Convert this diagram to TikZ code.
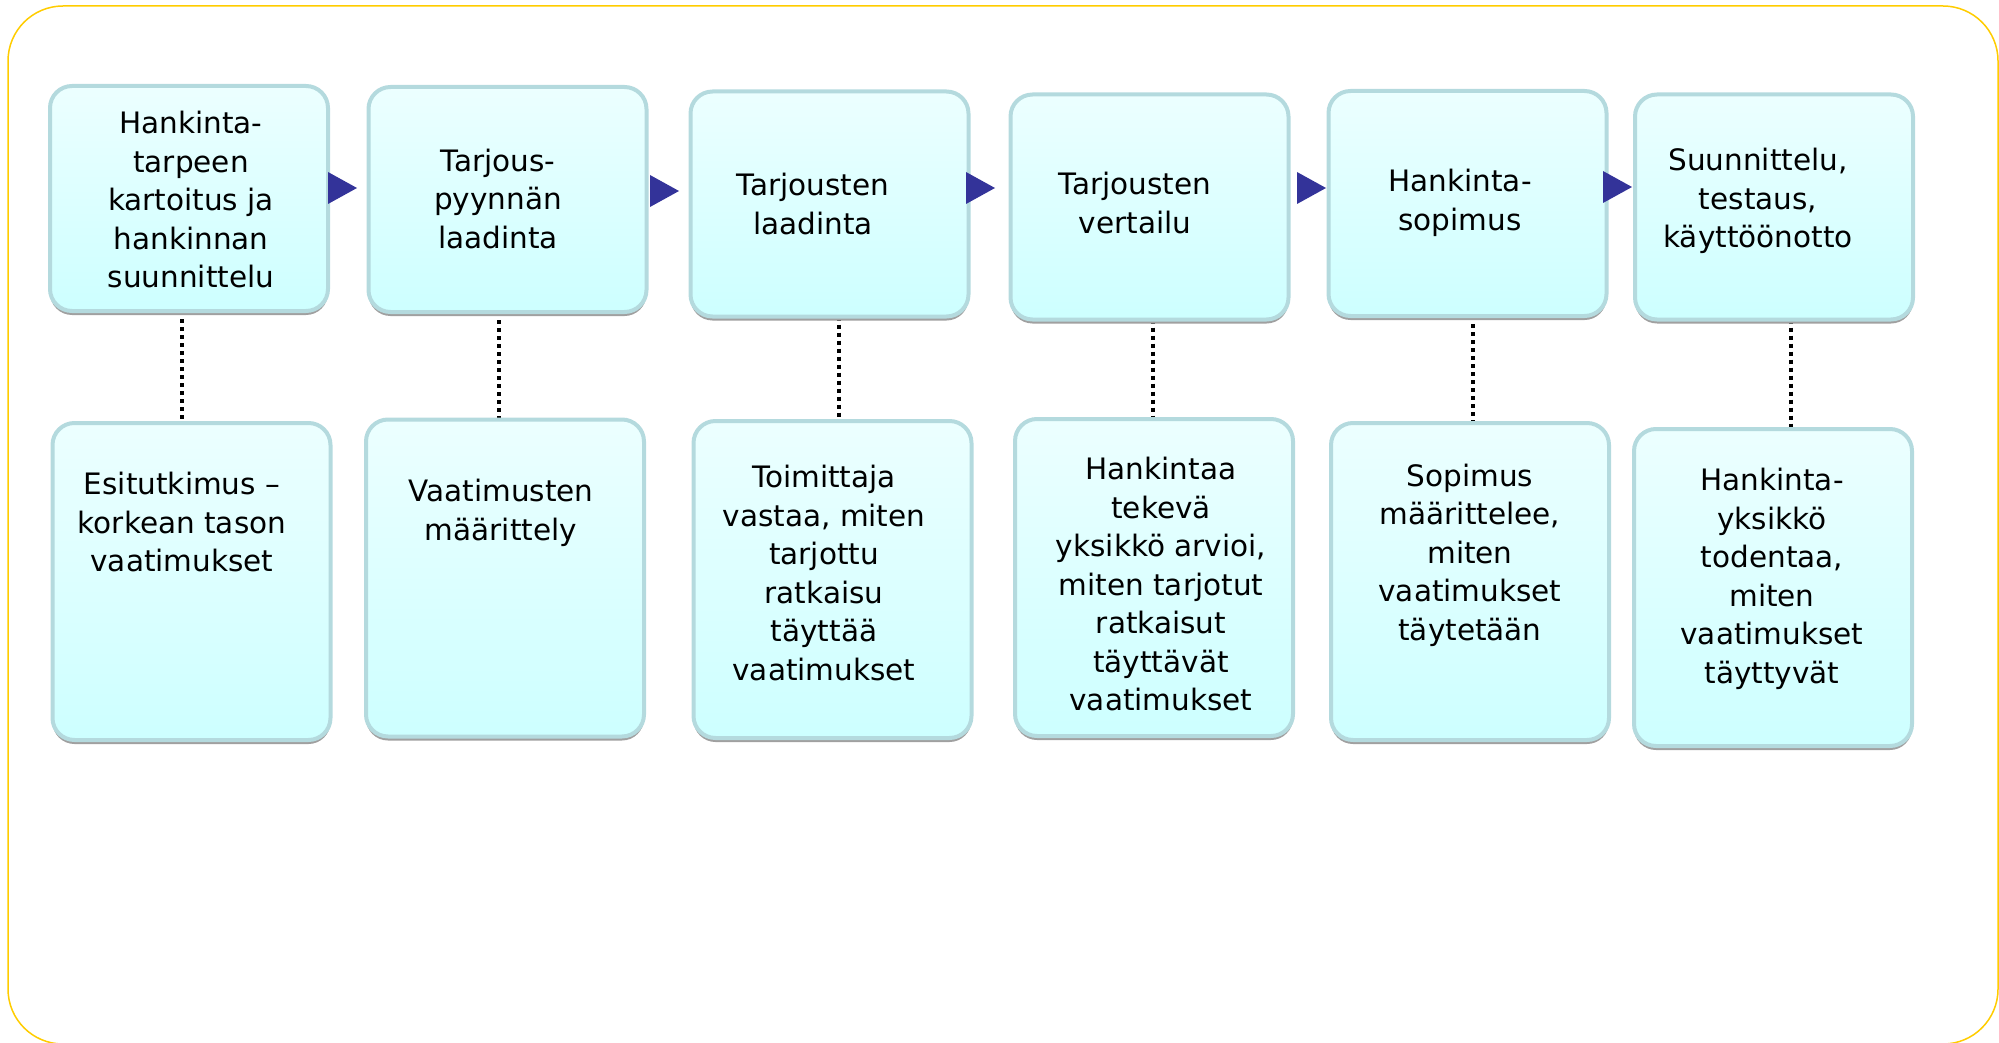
\documentclass[tikz,border=0pt]{standalone}
\usepackage{fontspec}
\setmainfont{DejaVu Sans}
\usetikzlibrary{shadows,calc}
\definecolor{boxtop}{RGB}{236,255,255}
\definecolor{boxbot}{RGB}{205,255,255}
\definecolor{boxline}{RGB}{180,218,222}
\definecolor{shadowc}{RGB}{160,160,160}
\definecolor{arrowc}{RGB}{51,51,153}
\definecolor{framec}{RGB}{255,204,0}
\begin{document}
\begin{tikzpicture}[x=1pt,y=-1pt,
  box/.style={draw=boxline, line width=4pt, rounded corners=22pt,
    top color=boxtop, bottom color=boxbot, minimum width=278pt, inner sep=0pt,
    drop shadow={shadow xshift=0pt, shadow yshift=-4pt, fill=shadowc, opacity=1}},
  topbox/.style={box, minimum height=225pt},
  botbox/.style={box, minimum height=317pt},
  lbl/.style={align=center, font=\fontsize{29.5}{38.5}\selectfont, inner sep=0pt},
  link/.style={line width=4pt, dash pattern=on 4pt off 4pt},
  tri/.style={fill=arrowc}]
\useasboundingbox (0,0) rectangle (1999,1043);
\draw[framec, line width=1.5pt, rounded corners=55pt] (8,6) rectangle (1998,1044);

% link x positions
\coordinate (x1) at (182,0);
\coordinate (x2) at (498.5,0);
\coordinate (x3) at (839,0);
\coordinate (x4) at (1153,0);
\coordinate (x5) at (1473,0);
\coordinate (x6) at (1791,0);

% invisible placeholders to get anchors for links before drawing boxes
\path (189,198.5) node[minimum width=278pt, minimum height=225pt, inner sep=0pt] (T1p) {}
      (507.5,199.5) node[minimum width=278pt, minimum height=225pt, inner sep=0pt] (T2p) {}
      (829.5,204) node[minimum width=278pt, minimum height=225pt, inner sep=0pt] (T3p) {}
      (1149.5,207) node[minimum width=278pt, minimum height=225pt, inner sep=0pt] (T4p) {}
      (1467.5,203.5) node[minimum width=278pt, minimum height=225pt, inner sep=0pt] (T5p) {}
      (1774,207) node[minimum width=278pt, minimum height=225pt, inner sep=0pt] (T6p) {};
\path (191.5,581.5) node[minimum width=278pt, minimum height=317pt, inner sep=0pt] (B1p) {}
      (505,578) node[minimum width=278pt, minimum height=317pt, inner sep=0pt] (B2p) {}
      (832.5,579.5) node[minimum width=278pt, minimum height=317pt, inner sep=0pt] (B3p) {}
      (1154,577.5) node[minimum width=278pt, minimum height=317pt, inner sep=0pt] (B4p) {}
      (1470,581.5) node[minimum width=278pt, minimum height=317pt, inner sep=0pt] (B5p) {}
      (1773,587.5) node[minimum width=278pt, minimum height=317pt, inner sep=0pt] (B6p) {};

\draw[link] (T1p.south -| x1) -- (B1p.north -| x1);
\draw[link] (T2p.south -| x2) -- (B2p.north -| x2);
\draw[link] (T3p.south -| x3) -- (B3p.north -| x3);
\draw[link] (T4p.south -| x4) -- (B4p.north -| x4);
\draw[link] (T5p.south -| x5) -- (B5p.north -| x5);
\draw[link] (T6p.south -| x6) -- (B6p.north -| x6);

% boxes
\node[topbox] (T1) at (T1p) {};
\node[topbox] (T2) at (T2p) {};
\node[topbox] (T3) at (T3p) {};
\node[topbox] (T4) at (T4p) {};
\node[topbox] (T5) at (T5p) {};
\node[topbox] (T6) at (T6p) {};
\node[botbox] (B1) at (B1p) {};
\node[botbox] (B2) at (B2p) {};
\node[botbox] (B3) at (B3p) {};
\node[botbox] (B4) at (B4p) {};
\node[botbox] (B5) at (B5p) {};
\node[botbox] (B6) at (B6p) {};

% arrows
\fill[tri] ($(T2.west)+(-9.5,-11.5)$) -- ++(-29,-16) -- ++(0,32) -- cycle;
\fill[tri] ($(T3.west)+(-9.5,-13)$) -- ++(-29,-16) -- ++(0,32) -- cycle;
\fill[tri] ($(T4.west)+(-13.5,-19)$) -- ++(-29,-16) -- ++(0,32) -- cycle;
\fill[tri] ($(T5.west)+(-0.5,-15.5)$) -- ++(-29,-16) -- ++(0,32) -- cycle;
\fill[tri] ($(T6.west)+(-1,-20)$) -- ++(-29,-16) -- ++(0,32) -- cycle;

% texts
\node[lbl] (tx1) at (191,200) {Hankinta-\\tarpeen\\kartoitus ja\\hankinnan\\suunnittelu};
\node[lbl] (tx2) at (498,199) {Tarjous-\\pyynnän\\laadinta};
\node[lbl] (tx3) at (813,204) {Tarjousten\\laadinta};
\node[lbl] (tx4) at (1135,203) {Tarjousten\\vertailu};
\node[lbl] (tx5) at (1460,203) {Hankinta-\\sopimus};
\node[lbl] (tx6) at (1758,201) {Suunnittelu,\\testaus,\\käyttöönotto};

\node[lbl] (bx1) at (182,522) {Esitutkimus –\\korkean tason\\vaatimukset};
\node[lbl] (bx2) at (501,513) {Vaatimusten\\määrittely};
\node[lbl] (bx3) at (824,573) {Toimittaja\\vastaa, miten\\tarjottu\\ratkaisu\\täyttää\\vaatimukset};
\node[lbl] (bx4) at (1161,584) {Hankintaa\\tekevä\\yksikkö arvioi,\\miten tarjotut\\ratkaisut\\täyttävät\\vaatimukset};
\node[lbl] (bx5) at (1470,555) {Sopimus\\määrittelee,\\miten\\vaatimukset\\täytetään};
\node[lbl] (bx6) at (1772,579) {Hankinta-\\yksikkö\\todentaa,\\miten\\vaatimukset\\täyttyvät};
\end{tikzpicture}
\end{document}
